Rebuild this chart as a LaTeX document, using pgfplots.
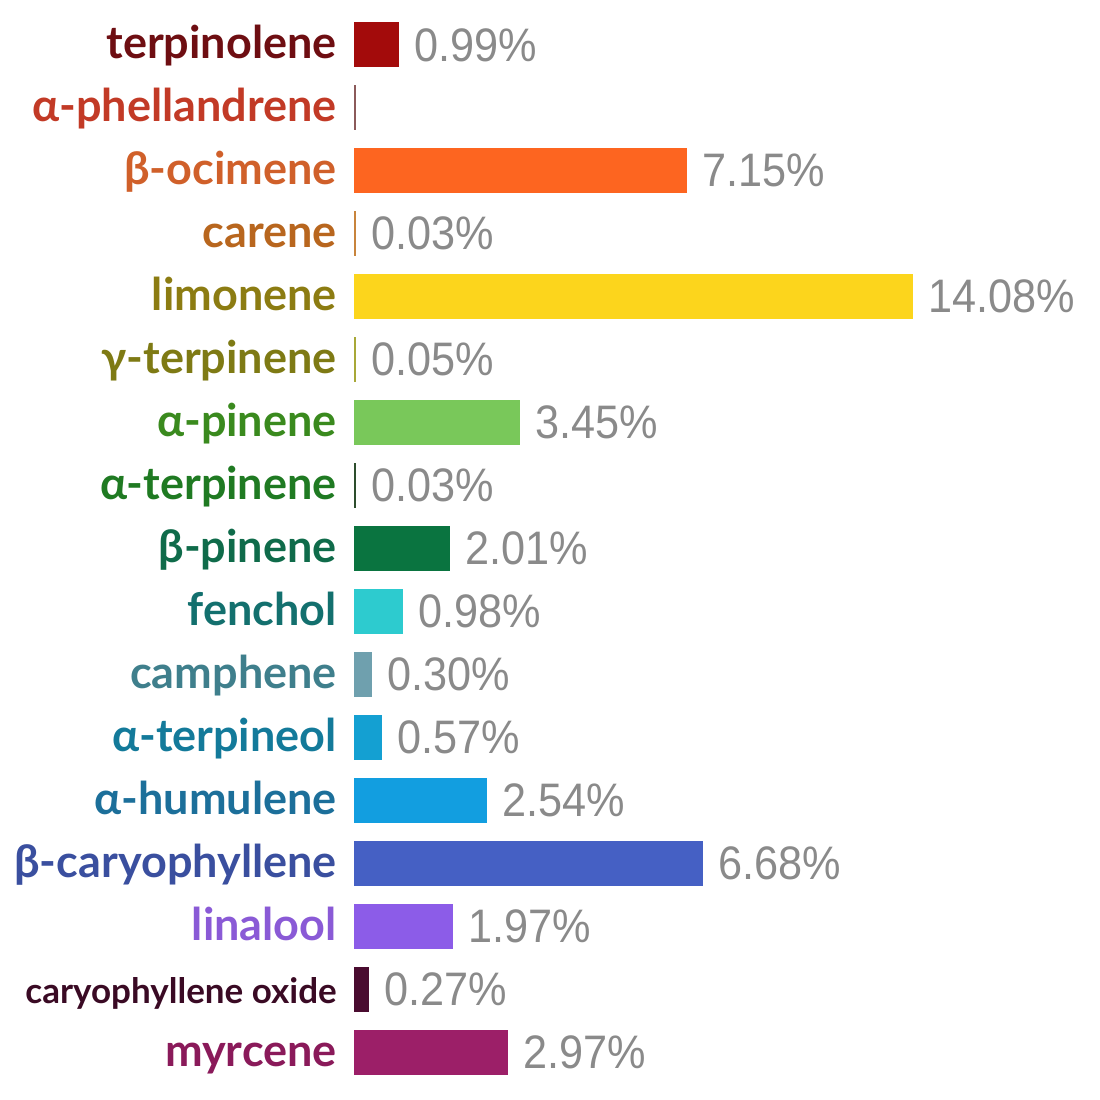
\documentclass[border=0pt]{standalone}
\usepackage{fontspec}
\usepackage{pgfplots}
\pgfplotsset{compat=1.18}
\newfontfamily\labelfont{Lato}
\newfontfamily\valfont{Liberation Sans}[FakeStretch=0.92]

\definecolor{valgray}{HTML}{8A8A8A}
% label colours
\definecolor{l1}{HTML}{6E0E12}
\definecolor{l2}{HTML}{C23A26}
\definecolor{l3}{HTML}{D0602A}
\definecolor{l4}{HTML}{B8661E}
\definecolor{l5}{HTML}{8C7C12}
\definecolor{l6}{HTML}{7E7A14}
\definecolor{l7}{HTML}{3A8A1E}
\definecolor{l8}{HTML}{1F7A22}
\definecolor{l9}{HTML}{0F6B4A}
\definecolor{l10}{HTML}{13706E}
\definecolor{l11}{HTML}{3F7F8C}
\definecolor{l12}{HTML}{137A9A}
\definecolor{l13}{HTML}{1C6F9A}
\definecolor{l14}{HTML}{3A4F9F}
\definecolor{l15}{HTML}{8A5AD6}
\definecolor{l16}{HTML}{3A0A24}
\definecolor{l17}{HTML}{8A1A5A}
% bar colours
\definecolor{b1}{HTML}{A30B0B}
\definecolor{b2}{HTML}{8B5A5A}
\definecolor{b3}{HTML}{FD6520}
\definecolor{b4}{HTML}{C8843C}
\definecolor{b5}{HTML}{FCD51C}
\definecolor{b6}{HTML}{A8A838}
\definecolor{b7}{HTML}{79C85A}
\definecolor{b8}{HTML}{2D4D2D}
\definecolor{b9}{HTML}{0A7440}
\definecolor{b10}{HTML}{2DCBCF}
\definecolor{b11}{HTML}{6FA0AE}
\definecolor{b12}{HTML}{14A0D2}
\definecolor{b13}{HTML}{129EE0}
\definecolor{b14}{HTML}{4560C4}
\definecolor{b15}{HTML}{8C5CE8}
\definecolor{b16}{HTML}{4A0C30}
\definecolor{b17}{HTML}{9C1F68}

\pgfplotsset{
  mybar/.style={fill=#1, draw=none, bar shift=0pt, bar width=45pt},
  lab/.style={nodes near coords, point meta=explicit symbolic},
}

\begin{document}
\begin{tikzpicture}[x=1pt,y=1pt]
\useasboundingbox (-354pt,-16.5pt) rectangle (746pt,1083.5pt);
\begin{axis}[
  at={(0pt,0pt)}, anchor=south west,
  scale only axis, width=746pt, height=1070pt,
  xmin=0, xmax=18.79,
  ymin=-0.5, ymax=16.5, y dir=reverse,
  xbar, bar width=45pt, bar shift=0pt,
  clip=false,
  axis line style={draw=none},
  major tick length=0pt,
  xtick=\empty,
  ytick={0,1,...,16},
  yticklabels={
    \textcolor{l1}{terpinolene},
    \textcolor{l2}{α-phellandrene},
    \textcolor{l3}{β-ocimene},
    \textcolor{l4}{carene},
    \textcolor{l5}{limonene},
    \textcolor{l6}{γ-terpinene},
    \textcolor{l7}{α-pinene},
    \textcolor{l8}{α-terpinene},
    \textcolor{l9}{β-pinene},
    \textcolor{l10}{fenchol},
    \textcolor{l11}{camphene},
    \textcolor{l12}{α-terpineol},
    \textcolor{l13}{α-humulene},
    \textcolor{l14}{β-caryophyllene},
    \textcolor{l15}{linalool},
    {\fontsize{35}{40}\selectfont\textcolor{l16}{caryophyllene oxide}},
    \textcolor{l17}{myrcene}
  },
  yticklabel style={font={\labelfont\bfseries\fontsize{45}{52}\selectfont},
    anchor=base east, inner sep=0pt, xshift=-17pt, yshift=-14pt},
  nodes near coords style={anchor=west, inner sep=0pt, xshift=15pt,
    font={\valfont\fontsize{47}{55}\selectfont}, text=valgray},
]
\addplot[mybar=b1, lab] coordinates {(1.13,0) [0.99\%]};
\addplot[mybar=b2] coordinates {(0.04,1)};
\addplot[mybar=b3, lab] coordinates {(8.39,2) [7.15\%]};
\addplot[mybar=b4, lab] coordinates {(0.05,3) [0.03\%]};
\addplot[mybar=b5, lab] coordinates {(14.08,4) [14.08\%]};
\addplot[mybar=b6, lab] coordinates {(0.05,5) [0.05\%]};
\addplot[mybar=b7, lab] coordinates {(4.18,6) [3.45\%]};
\addplot[mybar=b8, lab] coordinates {(0.05,7) [0.03\%]};
\addplot[mybar=b9, lab] coordinates {(2.42,8) [2.01\%]};
\addplot[mybar=b10, lab] coordinates {(1.23,9) [0.98\%]};
\addplot[mybar=b11, lab] coordinates {(0.45,10) [0.30\%]};
\addplot[mybar=b12, lab] coordinates {(0.71,11) [0.57\%]};
\addplot[mybar=b13, lab] coordinates {(3.35,12) [2.54\%]};
\addplot[mybar=b14, lab] coordinates {(8.79,13) [6.68\%]};
\addplot[mybar=b15, lab] coordinates {(2.49,14) [1.97\%]};
\addplot[mybar=b16, lab] coordinates {(0.38,15) [0.27\%]};
\addplot[mybar=b17, lab] coordinates {(3.88,16) [2.97\%]};
\end{axis}
\end{tikzpicture}
\end{document}
